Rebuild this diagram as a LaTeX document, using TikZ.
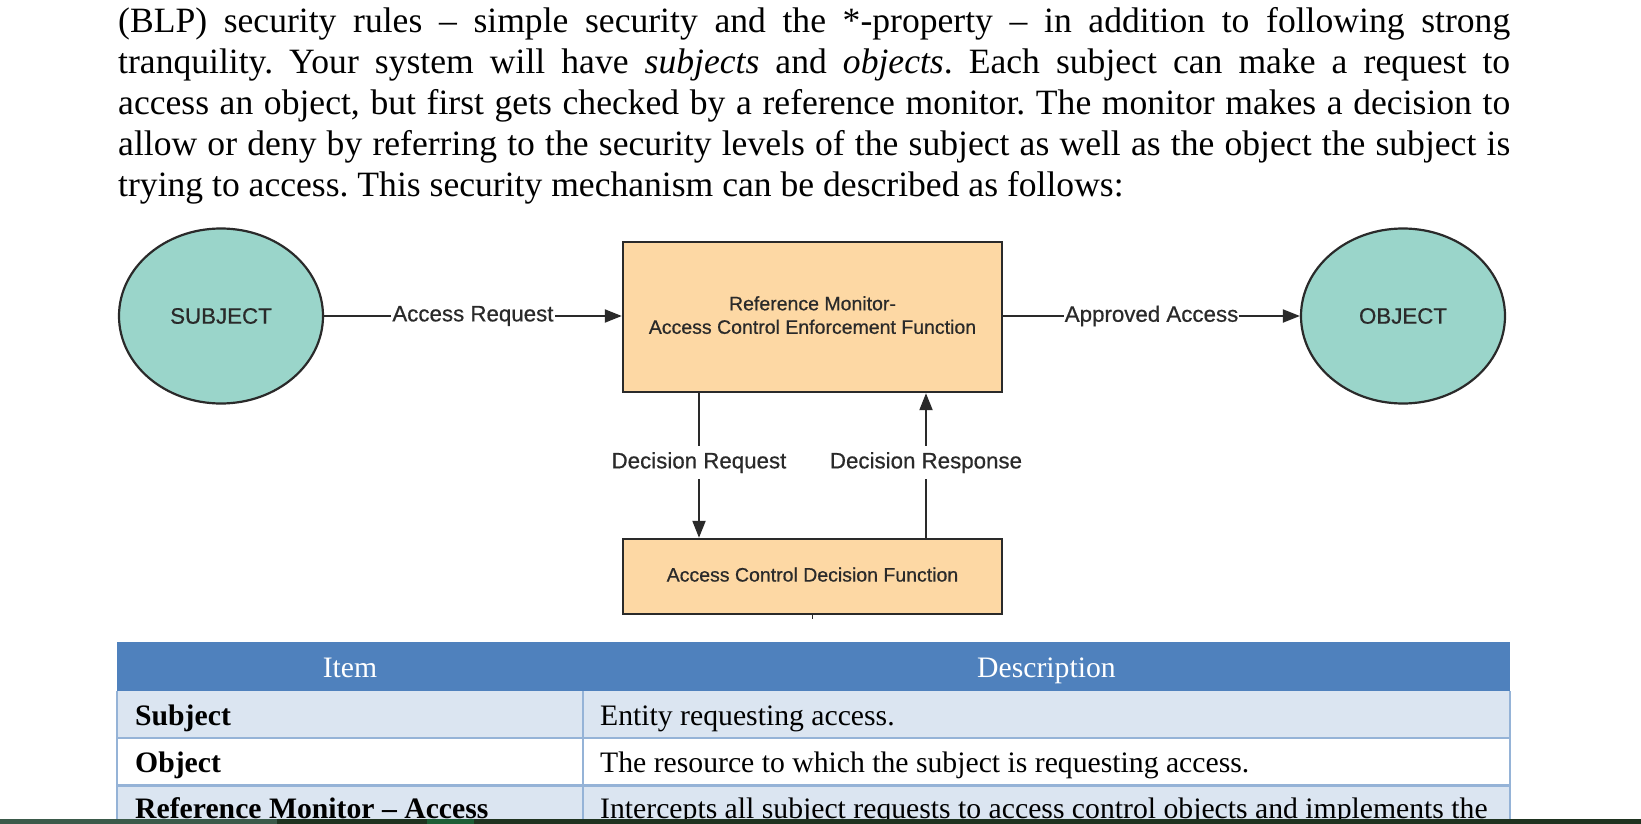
\documentclass[tikz,border=0pt]{standalone}
\usepackage{fontspec}
\setmainfont{Liberation Serif}
\newfontfamily\diagfont[FakeBold=0.6]{Liberation Sans}
\usetikzlibrary{arrows.meta,shapes.geometric}
\definecolor{ellfill}{HTML}{9AD5CA}
\definecolor{boxfill}{HTML}{FDD8A4}
\definecolor{ink}{HTML}{2A2A2A}
\definecolor{hdrblue}{HTML}{4F81BD}
\definecolor{rowblue}{HTML}{DBE5F1}
\definecolor{tborder}{HTML}{95B3D7}
\definecolor{bardark}{HTML}{1F3320}
\definecolor{bargray}{HTML}{3B5A4A}
\definecolor{bargreen}{HTML}{1D5E36}
\frenchspacing
\tikzset{
  para/.style={anchor=base west, inner sep=0pt, font=\frenchspacing\fontsize{35.6}{40.9}\selectfont},
  ell/.style={ellipse, draw=ink, line width=2.2pt, fill=ellfill, minimum width=204pt, minimum height=175pt, inner sep=0pt, text=ink, font=\diagfont\fontsize{22.3}{26}\selectfont},
  fbox/.style={rectangle, draw=ink, line width=2.4pt, fill=boxfill, inner sep=0pt, text=ink, align=center, font=\diagfont\fontsize{19.5}{23.5}\selectfont},
  arr/.style={draw=ink, line width=2pt, -{Triangle[length=17pt,width=13pt]}},
  lbl/.style={fill=white, text=ink, inner xsep=1pt, inner ysep=5pt, font=\diagfont\fontsize{22.3}{26}\selectfont},
  cell/.style={anchor=base west, inner sep=0pt, font=\frenchspacing\fontsize{29.7}{34}\selectfont},
  hcell/.style={anchor=base, inner sep=0pt, text=white, font=\fontsize{29.7}{34}\selectfont},
  tline/.style={draw=tborder, line width=2pt}
}
\begin{document}
\begin{tikzpicture}[x=1pt,y=-1pt]
\useasboundingbox (0,0) rectangle (1641,824);
\fill[white] (0,0) rectangle (1641,824);
% paragraph
\node[para] (l1) at (118,32.5) {\makebox[1392pt][s]{(BLP) security rules – simple security and the *-property – in addition to following strong}};
\node[para] (l2) at (118,73.4) {\makebox[1392pt][s]{tranquility. Your system will have \textit{subjects} and \textit{objects}. Each subject can make a request to}};
\node[para] (l3) at (118,114.3) {\makebox[1392pt][s]{access an object, but first gets checked by a reference monitor. The monitor makes a decision to}};
\node[para] (l4) at (118,155.2) {\makebox[1392pt][s]{allow or deny by referring to the security levels of the subject as well as the object the subject is}};
\node[para] (l5) at (118,196.1) {trying to access. This security mechanism can be described as follows:};
% diagram
\node[ell] (subj) at (221,316) {SUBJECT};
\node[ell] (obj) at (1403,316) {OBJECT};
\node[fbox, minimum width=379pt, minimum height=150pt] (rm) at (812.5,317) {Reference Monitor-\\Access Control Enforcement Function\rule[-4pt]{0pt}{4pt}};
\node[fbox, minimum width=379pt, minimum height=75pt] (dec) at (812.5,576.5) {Access Control Decision Function\rule[-4pt]{0pt}{4pt}};
\coordinate (dq) at (699,0);
\coordinate (dr) at (926,0);
\draw[arr] (subj.east) -- (subj.east -| rm.west) node[midway, lbl] {Access Request};
\draw[arr] (rm.east |- obj.west) -- (obj.west) node[midway, lbl] {Approved Access};
\draw[arr] (rm.south -| dq) -- (dec.north -| dq) node[pos=0.48, lbl, inner ysep=6pt] {Decision Request};
\draw[arr] (dec.north -| dr) -- (rm.south -| dr) node[pos=0.52, lbl, inner ysep=6pt] {Decision Response};
\draw[draw=ink, line width=1.5pt] (dec.south) -- ++(0,4);
% table
\fill[hdrblue] (117,641.5) rectangle (1510,691);
\fill[rowblue] (117,691) rectangle (1510,738);
\fill[rowblue] (117,785) rectangle (1510,824);
\draw[tline] (117,691) -- (117,824);
\draw[tline] (1510,691) -- (1510,824);
\draw[tline] (583,691) -- (583,824);
\draw[tline] (117,738) -- (1510,738);
\draw[tline, line width=3pt] (117,785.5) -- (1510,785.5);
\node[hcell] (h1) at (350,677) {Item};
\node[hcell] (h2) at (1046.5,677) {Description};
\node[cell] (c11) at (135,725) {\textbf{Subject}};
\node[cell] (c12) at (600,725) {Entity requesting access.};
\node[cell] (c21) at (135,772) {\textbf{Object}};
\node[cell] (c22) at (600,772) {The resource to which the subject is requesting access.};
\node[cell] (c31) at (135,818) {\textbf{Reference Monitor – Access}};
\node[cell] (c32) at (600,818) {Intercepts all subject requests to access control objects and implements the};
% bottom bar
\fill[bardark] (0,819) rectangle (1641,824);
\fill[bargray] (0,819) rectangle (277,824);
\fill[bargreen] (427,819) rectangle (474,824);
\end{tikzpicture}
\end{document}
